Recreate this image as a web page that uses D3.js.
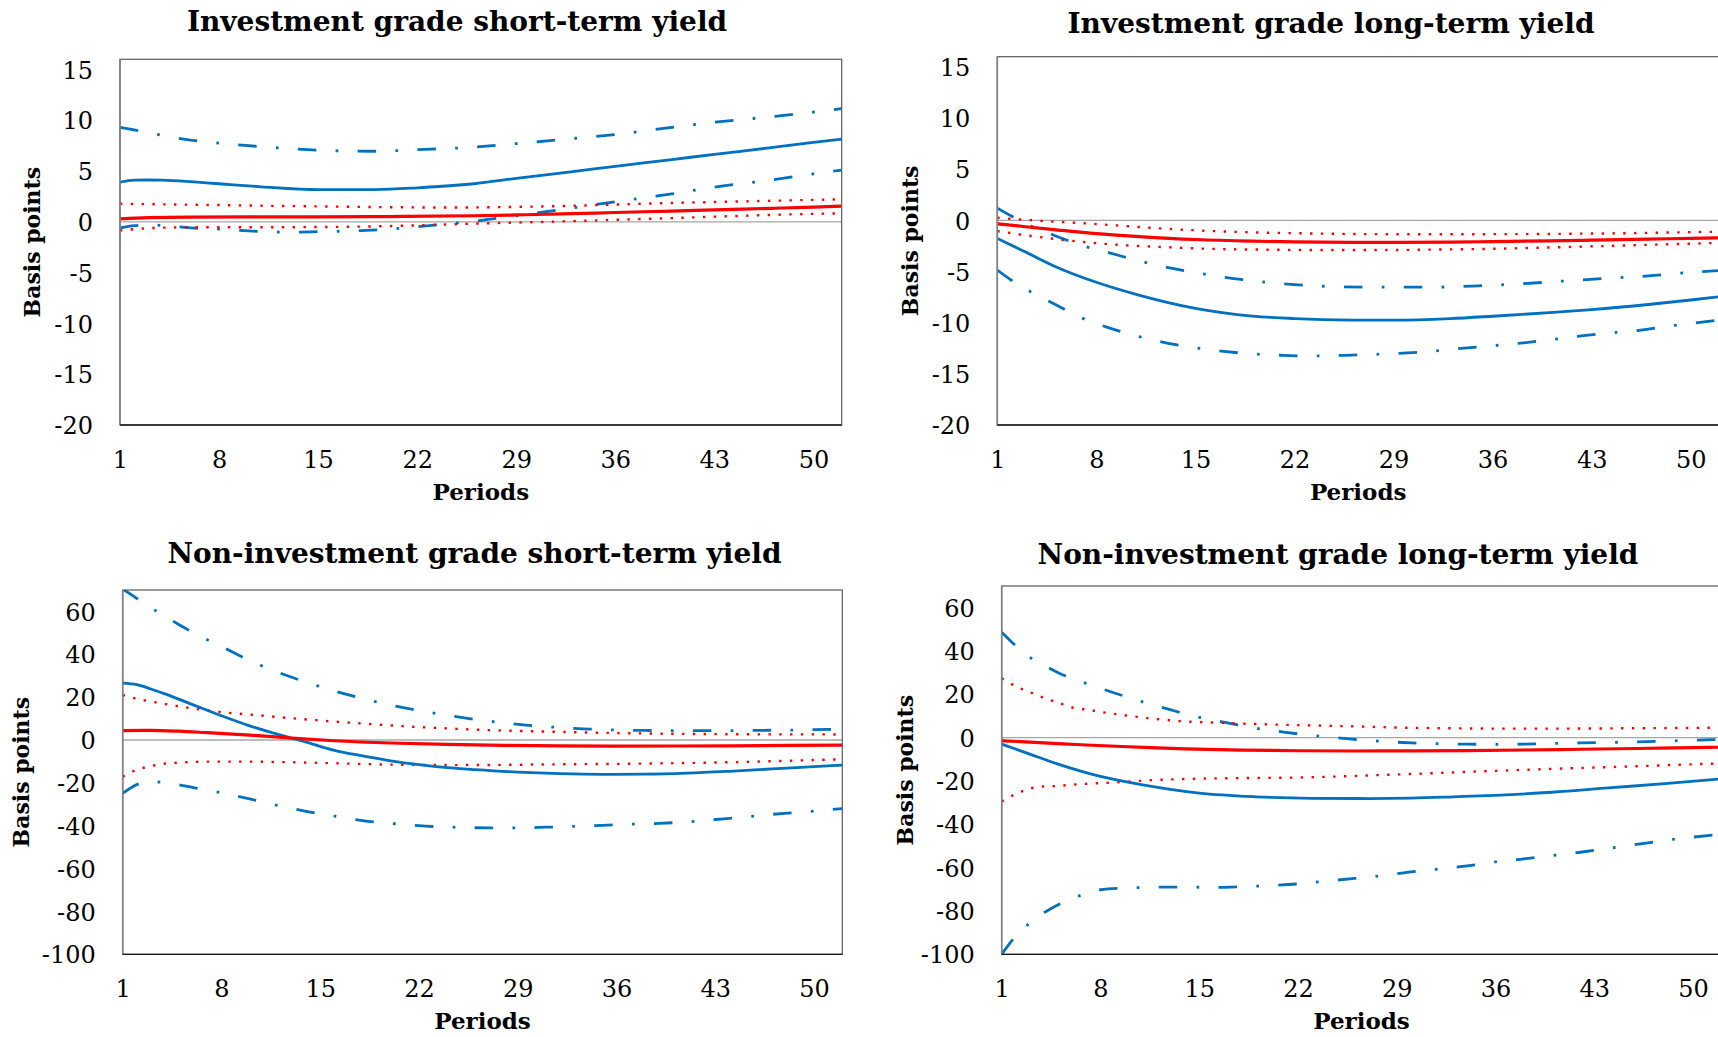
<!DOCTYPE html>
<html>
<head>
<meta charset="utf-8">
<script src="https://cdn.jsdelivr.net/npm/d3@7"></script>
<style>
  html, body { margin: 0; padding: 0; background: #ffffff; }
  svg { display: block; }
</style>
</head>
<body>
<svg id="chart" width="1718" height="1037"></svg>
<script>
// Impulse responses over 52 periods, in basis points.
// Each series is a list of [period, value] pairs.
const periodTicks = [1, 8, 15, 22, 29, 36, 43, 50];
const igTicks = [-20, -15, -10, -5, 0, 5, 10, 15];
const nigTicks = [-100, -80, -60, -40, -20, 0, 20, 40, 60];

// Investment grade short-term yield
const igShortBlue = [[1,3.9],[2,4.1],[3,4.12],[4,4.1],[6,3.95],[8,3.75],[11,3.45],[15,3.17],[19,3.18],[22,3.35],[26,3.75],[29,4.28],[33,4.95],[36,5.46],[40,6.13],[43,6.64],[47,7.3],[50,7.82],[52,8.15]];
const igShortBlueHi = [[1,9.3],[2,9.05],[4,8.5],[6,8.05],[8,7.75],[11,7.4],[15,7.05],[19,6.95],[22,7.1],[26,7.35],[29,7.7],[33,8.2],[36,8.6],[40,9.3],[43,9.8],[47,10.35],[50,10.8],[52,11.15]];
const igShortBlueLo = [[1,-0.6],[2,-0.38],[3,-0.3],[4,-0.35],[6,-0.6],[8,-0.72],[11,-0.95],[13,-1.02],[15,-0.97],[18,-0.86],[20,-0.72],[22,-0.48],[24,-0.22],[26,0.05],[29,0.6],[33,1.37],[36,1.98],[40,2.75],[43,3.42],[47,4.12],[50,4.73],[52,5.1]];
const igShortRed = [[1,0.3],[3,0.42],[6,0.47],[10,0.48],[15,0.48],[20,0.52],[26,0.6],[29,0.68],[33,0.8],[36,0.92],[40,1.06],[43,1.18],[47,1.33],[50,1.45],[52,1.55]];
const igShortRedHi = [[1,1.78],[4,1.72],[8,1.65],[12,1.57],[16,1.5],[20,1.44],[24,1.41],[28,1.45],[32,1.55],[36,1.7],[40,1.86],[44,1.98],[48,2.1],[52,2.22]];
const igShortRedLo = [[1,-0.85],[2,-0.72],[3,-0.63],[5,-0.55],[8,-0.53],[12,-0.53],[16,-0.5],[20,-0.42],[24,-0.26],[28,-0.1],[32,0.03],[36,0.2],[40,0.37],[44,0.55],[48,0.72],[52,0.84]];

// Investment grade long-term yield
const igLongBlue = [[1,-1.76],[3,-3.1],[5,-4.45],[8,-6.05],[11,-7.3],[15,-8.6],[19,-9.35],[22,-9.6],[26,-9.74],[29,-9.75],[33,-9.6],[36,-9.37],[40,-9.02],[43,-8.72],[47,-8.22],[50,-7.78],[52,-7.46]];
const igLongBlueHi = [[1,1.2],[2,0.42],[3,-0.3],[5,-1.45],[7,-2.45],[9,-3.2],[11,-3.95],[13,-4.6],[15,-5.1],[17,-5.55],[19,-5.9],[22,-6.28],[25,-6.48],[28,-6.52],[32,-6.52],[35,-6.4],[38,-6.2],[41,-5.93],[44,-5.67],[47,-5.43],[50,-5.08],[52,-4.9]];
const igLongBlueLo = [[1,-4.85],[2,-5.85],[3,-6.7],[5,-8.15],[7,-9.55],[9,-10.55],[11,-11.35],[13,-12.0],[15,-12.45],[17,-12.8],[19,-13.05],[21,-13.18],[23,-13.25],[26,-13.17],[28,-13.08],[30,-12.95],[32,-12.75],[34,-12.48],[36,-12.25],[38,-12.0],[40,-11.68],[42,-11.33],[44,-11.05],[46,-10.8],[48,-10.42],[50,-10.07],[52,-9.75]];
const igLongRed = [[1,-0.33],[3,-0.62],[5,-0.9],[8,-1.3],[11,-1.58],[15,-1.87],[19,-2.03],[22,-2.1],[26,-2.15],[29,-2.15],[33,-2.12],[36,-2.07],[40,-2.0],[43,-1.93],[47,-1.83],[50,-1.75],[52,-1.7]];
const igLongRedHi = [[1,0.26],[3,0.05],[5,-0.12],[7,-0.27],[10,-0.55],[13,-0.83],[16,-1.03],[19,-1.17],[22,-1.25],[26,-1.33],[30,-1.35],[34,-1.35],[38,-1.34],[42,-1.3],[46,-1.24],[50,-1.15],[52,-1.11]];
const igLongRedLo = [[1,-1.05],[2,-1.25],[3,-1.45],[5,-1.8],[7,-2.1],[10,-2.43],[13,-2.62],[16,-2.78],[20,-2.86],[24,-2.9],[28,-2.9],[32,-2.85],[36,-2.78],[40,-2.65],[44,-2.5],[48,-2.35],[52,-2.2]];

// Non-investment grade short-term yield
const nigShortBlue = [[1,26.5],[2,25.8],[3,23.8],[4,21.5],[6,16.4],[8,11.3],[10,6.6],[12,2.6],[14,-1.0],[16,-4.8],[18,-7.4],[20,-9.7],[22,-11.5],[24,-12.9],[26,-13.85],[29,-15.0],[32,-15.7],[35,-16.0],[38,-15.95],[41,-15.5],[44,-14.6],[47,-13.5],[50,-12.4],[52,-11.7]];
const nigShortBlueHi = [[1,70.5],[2,66.1],[3,61.7],[4,57.7],[5,53.8],[6,50.1],[8,43.6],[10,37.1],[12,31.6],[14,27.0],[16,22.9],[18,19.4],[20,16.2],[22,13.8],[24,11.5],[26,9.6],[28,8.0],[30,6.7],[32,5.8],[34,5.1],[36,4.7],[38,4.45],[40,4.4],[43,4.4],[46,4.5],[49,4.7],[52,5.1]];
const nigShortBlueLo = [[1,-24.9],[2,-20.8],[3,-19.5],[4,-19.9],[5,-20.9],[6,-22.2],[8,-24.6],[10,-27.5],[12,-30.6],[14,-33.3],[16,-35.5],[18,-37.6],[20,-38.9],[22,-40.0],[24,-40.6],[27,-41.0],[29,-41.0],[31,-40.7],[33,-40.3],[35,-39.8],[37,-39.3],[39,-38.9],[41,-38.2],[43,-37.1],[45,-36.0],[47,-34.7],[49,-33.7],[52,-32.0]];
const nigShortRed = [[1,4.4],[3,4.5],[5,4.1],[7,3.4],[10,2.3],[13,0.85],[16,-0.35],[20,-1.4],[24,-2.05],[28,-2.5],[32,-2.75],[36,-2.85],[40,-2.8],[44,-2.7],[48,-2.55],[52,-2.35]];
const nigShortRedHi = [[1,21.0],[2,19.2],[3,18.0],[4,16.8],[6,14.7],[8,13.0],[10,11.9],[12,10.7],[15,9.1],[18,7.7],[21,6.4],[24,5.4],[27,4.6],[30,4.1],[34,3.5],[38,3.05],[42,2.8],[46,2.65],[52,2.6]];
const nigShortRedLo = [[1,-17.1],[2,-13.9],[3,-12.2],[4,-11.0],[5,-10.55],[7,-10.1],[10,-10.1],[13,-10.4],[16,-10.85],[19,-11.35],[22,-11.65],[25,-11.7],[28,-11.6],[31,-11.4],[35,-11.2],[39,-10.9],[43,-10.5],[47,-9.9],[50,-9.35],[52,-9.0]];

// Non-investment grade long-term yield
const nigLongBlue = [[1,-3.0],[3,-7.6],[5,-12.2],[8,-17.9],[11,-21.8],[15,-25.6],[19,-27.3],[23,-28.0],[27,-28.1],[30,-27.9],[33,-27.3],[36,-26.6],[40,-25.2],[44,-23.2],[48,-21.2],[52,-19.0]];
const nigLongBlueHi = [[1,48.7],[2,42.4],[3,37.1],[4,33.4],[5,30.0],[7,25.0],[9,20.6],[11,16.5],[13,12.8],[15,9.4],[17,6.8],[19,4.4],[21,2.6],[23,1.0],[25,-0.2],[27,-1.3],[29,-2.1],[31,-2.65],[34,-3.0],[36,-3.1],[38,-3.0],[40,-2.7],[42,-2.45],[44,-2.2],[46,-1.95],[48,-1.6],[50,-1.15],[52,-0.8]];
const nigLongBlueLo = [[1,-100],[2,-91.5],[3,-85.5],[4,-80.8],[5,-77.1],[6,-74.0],[7,-72.0],[8,-70.2],[10,-69.4],[12,-69.0],[14,-69.0],[16,-69.1],[18,-68.8],[20,-68.3],[22,-67.5],[24,-66.2],[26,-65.0],[28,-63.7],[30,-62.0],[32,-60.6],[34,-59.2],[36,-57.3],[38,-56.0],[40,-54.4],[42,-52.9],[44,-51.1],[46,-49.3],[48,-47.4],[50,-45.9],[52,-44.6]];
const nigLongRed = [[1,-1.4],[4,-2.4],[7,-3.4],[10,-4.2],[14,-5.2],[18,-5.75],[22,-6.05],[26,-6.15],[30,-6.1],[34,-5.95],[38,-5.7],[42,-5.35],[46,-5.0],[50,-4.6],[52,-4.4]];
const nigLongRedHi = [[1,27.4],[2,23.7],[3,21.0],[4,18.3],[5,16.2],[6,13.9],[7,13.0],[8,11.9],[10,10.1],[12,8.6],[14,7.5],[16,7.0],[18,6.5],[20,6.1],[23,5.65],[26,5.2],[30,4.55],[34,4.25],[38,4.15],[42,4.2],[46,4.35],[50,4.5],[52,4.6]];
const nigLongRedLo = [[1,-29.5],[2,-26.0],[3,-23.5],[4,-22.5],[5,-22.3],[6,-21.7],[8,-21.0],[10,-20.3],[12,-19.5],[14,-19.1],[16,-18.8],[19,-18.6],[22,-18.4],[25,-17.9],[28,-17.2],[31,-16.55],[34,-15.8],[37,-15.1],[40,-14.4],[43,-13.8],[46,-13.2],[49,-12.5],[52,-11.9]];

const SERIF = "'DejaVu Serif', 'Liberation Serif', serif";
const BLUE = "#0070C0";
const RED = "#FF0000";

// Line styles: point estimates solid, blue bands dash-dot, red bands dotted.
const styles = {
  blueHi: { color: BLUE, width: 2.8, dash: "18.5 19.3 2.7 19.3" },
  blueLo: { color: BLUE, width: 2.8, dash: "18.5 19.3 2.7 19.3" },
  redHi:  { color: RED,  width: 2.4, dash: "2.4 8.4" },
  redLo:  { color: RED,  width: 2.4, dash: "2.4 8.4" },
  blue:   { color: BLUE, width: 2.8, dash: null },
  red:    { color: RED,  width: 3.2, dash: null }
};
const drawOrder = ["blueHi", "blueLo", "redHi", "redLo", "blue", "red"];

// Tick labels use a plain hyphen for negatives
const fmt = d => String(d);

const panels = [
  { id: "igs", title: "Investment grade short-term yield", titleX: 457, titleY: 31,
    left: 120, top: 59.3, width: 721.7, height: 365.7, yDomain: [-20, 16], yTicks: igTicks, yLabelX: 40,
    series: { blue: igShortBlue, blueHi: igShortBlueHi, blueLo: igShortBlueLo, red: igShortRed, redHi: igShortRedHi, redLo: igShortRedLo } },
  { id: "igl", title: "Investment grade long-term yield", titleX: 1331, titleY: 33,
    left: 997.3, top: 56.7, width: 721.7, height: 368.3, yDomain: [-20, 16], yTicks: igTicks, yLabelX: 918,
    series: { blue: igLongBlue, blueHi: igLongBlueHi, blueLo: igLongBlueLo, red: igLongRed, redHi: igLongRedHi, redLo: igLongRedLo } },
  { id: "nigs", title: "Non-investment grade short-term yield", titleX: 474.5, titleY: 563,
    left: 122.7, top: 590, width: 719.6, height: 364.3, yDomain: [-100, 70], yTicks: nigTicks, yLabelX: 29,
    series: { blue: nigShortBlue, blueHi: nigShortBlueHi, blueLo: nigShortBlueLo, red: nigShortRed, redHi: nigShortRedHi, redLo: nigShortRedLo } },
  { id: "nigl", title: "Non-investment grade long-term yield", titleX: 1338, titleY: 563.5,
    left: 1001.7, top: 586, width: 719.6, height: 368.3, yDomain: [-100, 70], yTicks: nigTicks, yLabelX: 913,
    series: { blue: nigLongBlue, blueHi: nigLongBlueHi, blueLo: nigLongBlueLo, red: nigLongRed, redHi: nigLongRedHi, redLo: nigLongRedLo } }
];

const svg = d3.select("#chart");
svg.append("rect").attr("width", 1718).attr("height", 1037).attr("fill", "#ffffff");

panels.forEach(p => {
  const x = d3.scaleLinear().domain([1, 52]).range([p.left, p.left + p.width]);
  const y = d3.scaleLinear().domain(p.yDomain).range([p.top + p.height, p.top]);
  const g = svg.append("g").attr("class", "panel panel-" + p.id);

  // Title
  g.append("text")
    .attr("x", p.titleX).attr("y", p.titleY)
    .attr("text-anchor", "middle")
    .attr("font-family", SERIF).attr("font-weight", "bold").attr("font-size", 28)
    .attr("fill", "#000")
    .text(p.title);

  // Clip region for the series
  g.append("clipPath").attr("id", "clip-" + p.id)
    .append("rect")
    .attr("x", p.left).attr("y", p.top)
    .attr("width", p.width).attr("height", p.height);

  // Zero reference line
  g.append("line")
    .attr("x1", p.left).attr("x2", p.left + p.width)
    .attr("y1", y(0)).attr("y2", y(0))
    .attr("stroke", "#a6a6a6").attr("stroke-width", 1.3);

  // Series
  const line = d3.line()
    .x(d => x(d[0]))
    .y(d => y(d[1]))
    .curve(d3.curveMonotoneX);
  const lines = g.append("g").attr("clip-path", `url(#clip-${p.id})`);
  drawOrder.forEach(key => {
    const s = styles[key];
    lines.append("path")
      .datum(p.series[key])
      .attr("d", line)
      .attr("fill", "none")
      .attr("stroke", s.color)
      .attr("stroke-width", s.width)
      .attr("stroke-dasharray", s.dash)
      .attr("stroke-linejoin", "round");
  });

  // Plot frame
  g.append("rect")
    .attr("x", p.left).attr("y", p.top)
    .attr("width", p.width).attr("height", p.height)
    .attr("fill", "none").attr("stroke", "#595959").attr("stroke-width", 1.2);
  g.append("line")
    .attr("x1", p.left).attr("x2", p.left)
    .attr("y1", p.top).attr("y2", p.top + p.height)
    .attr("stroke", "#808080").attr("stroke-width", 1.6);
  g.append("line")
    .attr("x1", p.left).attr("x2", p.left + p.width)
    .attr("y1", p.top + p.height).attr("y2", p.top + p.height)
    .attr("stroke", "#1a1a1a").attr("stroke-width", 1.3);

  // Y axis labels
  const yAxis = g.append("g")
    .attr("transform", `translate(${p.left},0)`)
    .call(d3.axisLeft(y).tickValues(p.yTicks).tickSize(0).tickPadding(27).tickFormat(fmt));
  yAxis.select(".domain").remove();
  yAxis.attr("font-family", SERIF).attr("font-size", 24);
  yAxis.selectAll("text").attr("fill", "#000").attr("dy", "0.36em");

  // X axis labels
  const xAxis = g.append("g")
    .attr("transform", `translate(0,${p.top + p.height})`)
    .call(d3.axisBottom(x).tickValues(periodTicks).tickSize(0).tickPadding(26).tickFormat(fmt));
  xAxis.select(".domain").remove();
  xAxis.attr("font-family", SERIF).attr("font-size", 24);
  xAxis.selectAll("text").attr("fill", "#000");

  // Axis titles
  g.append("text")
    .attr("x", p.left + p.width / 2).attr("y", p.top + p.height + 75)
    .attr("text-anchor", "middle")
    .attr("font-family", SERIF).attr("font-weight", "bold").attr("font-size", 23)
    .attr("fill", "#000")
    .text("Periods");
  g.append("text")
    .attr("transform", `translate(${p.yLabelX},${p.top + p.height / 2}) rotate(-90)`)
    .attr("text-anchor", "middle")
    .attr("font-family", SERIF).attr("font-weight", "bold").attr("font-size", 22)
    .attr("fill", "#000")
    .text("Basis points");
});
</script>
</body>
</html>
